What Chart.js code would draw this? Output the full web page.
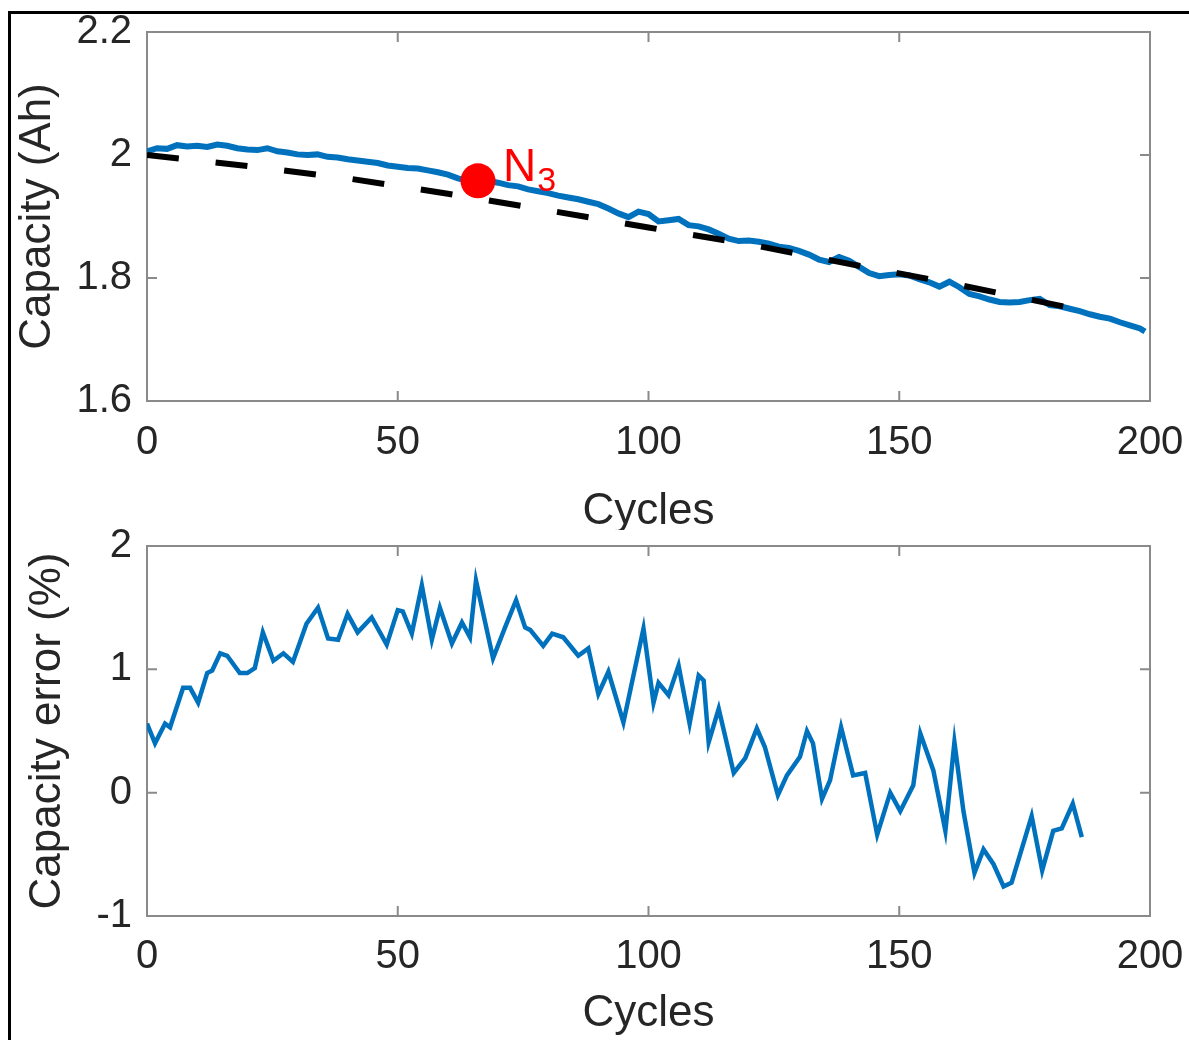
<!DOCTYPE html>
<html>
<head>
<meta charset="utf-8">
<script src="https://cdn.jsdelivr.net/npm/chart.js@4.4.1/dist/chart.umd.min.js"></script>
<style>
  html, body { margin: 0; padding: 0; background: #fff; }
  body { width: 1189px; height: 1040px; position: relative; overflow: hidden; }
  #frame { position: absolute; left: 8px; top: 11px; width: 1200px; height: 1100px;
           border-left: 3px solid #000; border-top: 3px solid #000; }
  canvas { position: absolute; left: 0; }
  #capChart { top: 0; }
  #errChart { top: 490px; }
</style>
</head>
<body>
<div id="frame"></div>
<canvas id="capChart" width="1189" height="530"></canvas>
<canvas id="errChart" width="1189" height="550"></canvas>
<script>
// --- data ---
const cycleTicks = [0, 50, 100, 150, 200];
const capTicks = [1.6, 1.8, 2, 2.2];
const errTicks = [-1, 0, 1, 2];

const capCycles = [0, 2, 4, 6, 8, 10, 12, 14, 16, 18, 20, 22, 24, 26, 28, 30, 32, 34, 36, 38,
  40, 42, 44, 46, 48, 50, 52, 54, 56, 58, 60, 62, 64, 66, 68, 70, 72, 74, 76, 78,
  80, 82, 84, 86, 88, 90, 92, 94, 96, 98, 100, 102, 104, 106, 108, 110, 112, 114, 116, 118,
  120, 122, 124, 126, 128, 130, 132, 134, 136, 138, 140, 142, 144, 146, 148, 150, 152, 154, 156, 158,
  160, 162, 164, 166, 168, 170, 172, 174, 176, 178, 180, 182, 184, 186, 188, 190, 192, 194, 196, 198, 199];
const capacity = [2.006, 2.011, 2.010, 2.016, 2.014, 2.015, 2.013, 2.017, 2.015, 2.011, 2.009, 2.008, 2.011, 2.006, 2.004, 2.001, 2.000, 2.001, 1.997, 1.996,
  1.993, 1.991, 1.989, 1.987, 1.983, 1.981, 1.979, 1.978, 1.975, 1.972, 1.968, 1.962, 1.958, 1.957, 1.958, 1.955, 1.951, 1.949, 1.944, 1.941,
  1.938, 1.934, 1.931, 1.928, 1.924, 1.920, 1.913, 1.905, 1.899, 1.908, 1.904, 1.892, 1.894, 1.896, 1.886, 1.884, 1.879, 1.872, 1.864, 1.860,
  1.861, 1.859, 1.856, 1.851, 1.849, 1.844, 1.838, 1.830, 1.826, 1.834, 1.828, 1.818, 1.808, 1.803, 1.805, 1.806, 1.804, 1.798, 1.793, 1.786,
  1.794, 1.785, 1.774, 1.770, 1.765, 1.761, 1.760, 1.761, 1.764, 1.766, 1.756, 1.754, 1.750, 1.746, 1.741, 1.737, 1.734, 1.728, 1.723, 1.718, 1.713];

const fitCycles = [0, 20, 40, 60, 80, 100, 120, 140, 160, 185];
const fitCapacity = [2.0, 1.982, 1.962, 1.937, 1.910, 1.882, 1.855, 1.823, 1.792, 1.750];

const n3Cycle = 66;
const n3Capacity = 1.958;
const n3Label = ['N', '3'];

const errCycles = [0, 1.6, 3.6, 4.6, 7.2, 8.6, 10.2, 12, 13, 14.6, 16, 18.5, 20, 21.5, 23.1, 25.2, 27.2, 29.1, 31.8, 34.1,
  36.1, 38.1, 40, 42, 44.8, 47.8, 50, 51, 52.8, 54.8, 56.8, 58.4, 60.8, 62.8, 64.4, 65.6, 69, 71.4, 73.6, 75.4,
  76.4, 79, 80.8, 83, 86, 88, 90, 92, 95, 99, 101, 102, 104, 106, 108.2, 110, 111, 112, 114, 117,
  119.3, 121.6, 123.2, 125.8, 127.6, 130.2, 131.6, 132.8, 134.6, 136.2, 138.4, 140.8, 143.2, 145.6, 148.2, 150.2, 152.8, 154.2, 156.8, 159.2,
  161, 162.8, 165, 166.8, 168.8, 170.8, 172.4, 176.4, 178.5, 180.7, 182.4, 184.6, 186.4];
const errValues = [0.56, 0.40, 0.56, 0.53, 0.85, 0.85, 0.73, 0.97, 0.99, 1.13, 1.11, 0.97, 0.97, 1.01, 1.30, 1.07, 1.13, 1.06, 1.37, 1.50,
  1.25, 1.24, 1.45, 1.30, 1.42, 1.20, 1.48, 1.47, 1.29, 1.68, 1.24, 1.50, 1.21, 1.38, 1.26, 1.72, 1.09, 1.34, 1.56, 1.34,
  1.32, 1.19, 1.29, 1.26, 1.11, 1.17, 0.80, 0.98, 0.57, 1.33, 0.73, 0.89, 0.79, 1.03, 0.56, 0.95, 0.91, 0.41, 0.68, 0.16,
  0.28, 0.52, 0.37, -0.02, 0.14, 0.29, 0.50, 0.40, -0.05, 0.10, 0.53, 0.14, 0.16, -0.34, 0.0, -0.15, 0.06, 0.48, 0.18, -0.31,
  0.41, -0.15, -0.65, -0.46, -0.58, -0.76, -0.73, -0.19, -0.63, -0.31, -0.29, -0.09, -0.36];

// --- styling ---
const FONT = '"Liberation Sans", Arial, Helvetica, sans-serif';
const TEXT = '#262626';
const BLUE = '#0072BD';

const toPoints = (xs, ys) => xs.map((x, i) => ({ x: x, y: ys[i] }));
const fmt = v => String(+v.toFixed(2));

// axes box with inward tick marks, MATLAB style
const boxPlugin = {
  id: 'box',
  beforeDatasetsDraw(chart) {
    const { ctx, chartArea: a, scales } = chart;
    const len = 10;
    ctx.save();
    ctx.strokeStyle = '#8a8a8a';
    ctx.lineWidth = 2;
    ctx.strokeRect(a.left, a.top, a.right - a.left, a.bottom - a.top);
    ctx.beginPath();
    scales.x.ticks.forEach(t => {
      const px = scales.x.getPixelForValue(t.value);
      ctx.moveTo(px, a.bottom); ctx.lineTo(px, a.bottom - len);
      ctx.moveTo(px, a.top); ctx.lineTo(px, a.top + len);
    });
    scales.y.ticks.forEach(t => {
      const py = scales.y.getPixelForValue(t.value);
      ctx.moveTo(a.left, py); ctx.lineTo(a.left + len, py);
      ctx.moveTo(a.right, py); ctx.lineTo(a.right - len, py);
    });
    ctx.stroke();
    ctx.restore();
  }
};

const n3Plugin = {
  id: 'n3',
  afterDatasetsDraw(chart) {
    const pt = chart.getDatasetMeta(0).data[0];
    if (!pt) return;
    const ctx = chart.ctx;
    ctx.save();
    ctx.fillStyle = '#ff0000';
    ctx.textBaseline = 'alphabetic';
    ctx.font = '46px ' + FONT;
    const x0 = pt.x + 25;
    ctx.fillText(n3Label[0], x0, pt.y + 0);
    const w = ctx.measureText(n3Label[0]).width;
    ctx.font = '34px ' + FONT;
    ctx.fillText(n3Label[1], x0 + w + 1, pt.y + 10);
    ctx.restore();
  }
};

// invisible grid: only used so tickLength offsets the labels without adding layout padding
const hiddenGrid = len => ({ display: true, drawOnChartArea: false, drawTicks: true, tickLength: len, color: 'rgba(0,0,0,0)' });

function axes(yTicks, yMin, yMax, yTitle, opts) {
  return {
    x: {
      type: 'linear', min: 0, max: 200,
      afterBuildTicks: s => { s.ticks = cycleTicks.map(v => ({ value: v })); },
      afterFit: s => { s.height = opts.xHeight; },
      grid: hiddenGrid(opts.xGap),
      border: { display: false },
      ticks: { color: TEXT, font: { family: FONT, size: 40 }, padding: 0, maxRotation: 0, callback: fmt },
      title: { display: true, text: 'Cycles', color: TEXT, font: { family: FONT, size: 44, lineHeight: 1 },
               padding: { top: 0, bottom: opts.xTitlePad } }
    },
    y: {
      type: 'linear', min: yMin, max: yMax,
      afterBuildTicks: s => { s.ticks = yTicks.map(v => ({ value: v })); },
      afterFit: s => { s.width = 147; },
      grid: hiddenGrid(15),
      border: { display: false },
      ticks: { color: TEXT, font: { family: FONT, size: 40 }, padding: 0, callback: fmt },
      title: { display: true, text: yTitle, color: TEXT, font: { family: FONT, size: 44, lineHeight: 1 },
               padding: { top: opts.yTitlePad, bottom: 0 } }
    }
  };
}

new Chart(document.getElementById('capChart'), {
  type: 'line',
  data: {
    datasets: [
      {
        label: 'N3', type: 'scatter', data: toPoints([n3Cycle], [n3Capacity]),
        pointRadius: 17.5, pointBackgroundColor: '#ff0000', pointBorderWidth: 0, order: 0
      },
      {
        label: 'Fit', data: toPoints(fitCycles, fitCapacity),
        borderColor: '#000', borderWidth: 6, borderDash: [32, 37], pointRadius: 0, tension: 0, order: 1
      },
      {
        label: 'Capacity', data: toPoints(capCycles, capacity),
        borderColor: BLUE, borderWidth: 6, pointRadius: 0, tension: 0, order: 2
      }
    ]
  },
  options: {
    responsive: false,
    animation: false,
    layout: { padding: { left: 0, top: 32, right: 39, bottom: 0 } },
    plugins: { legend: { display: false }, tooltip: { enabled: false } },
    scales: axes(capTicks, 1.6, 2.2, 'Capacity (Ah)', { xHeight: 129, xGap: 18, xTitlePad: -4, yTitlePad: 16 })
  },
  plugins: [boxPlugin, n3Plugin]
});

new Chart(document.getElementById('errChart'), {
  type: 'line',
  data: {
    datasets: [
      {
        label: 'Capacity error', data: toPoints(errCycles, errValues),
        borderColor: BLUE, borderWidth: 4.5, pointRadius: 0, tension: 0
      }
    ]
  },
  options: {
    responsive: false,
    animation: false,
    layout: { padding: { left: 0, top: 56, right: 39, bottom: 0 } },
    plugins: { legend: { display: false }, tooltip: { enabled: false } },
    scales: axes(errTicks, -1, 2, 'Capacity error (%)', { xHeight: 124, xGap: 17, xTitlePad: 4, yTitlePad: 26 })
  },
  plugins: [boxPlugin]
});
</script>
</body>
</html>
